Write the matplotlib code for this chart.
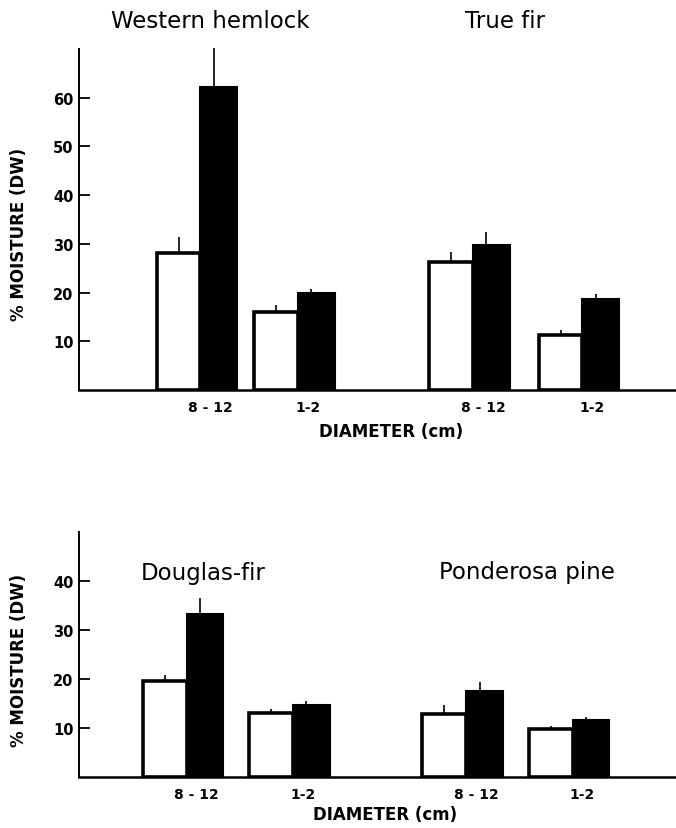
import numpy as np
import matplotlib
matplotlib.use("Agg")
import matplotlib.pyplot as plt

# ------------------------------
# DONNÉES
# ------------------------------
diam_labels = ["8 - 12", "1-2", "8 - 12", "1-2"]

# panneau du haut : Western hemlock (2 groupes) puis True fir (2 groupes)
top_open = [28.2, 16.1, 26.3, 11.4]
top_open_err = [3.2, 1.4, 2.1, 1.0]
top_solid = [62.2, 20.0, 29.8, 18.8]
top_solid_err = [8.0, 0.8, 2.6, 1.0]

# panneau du bas : Douglas-fir puis Ponderosa pine
bot_open = [19.5, 13.0, 12.9, 9.7]
bot_open_err = [1.2, 0.8, 1.7, 0.6]
bot_solid = [33.3, 14.6, 17.6, 11.6]
bot_solid_err = [3.1, 0.9, 1.7, 0.6]

top_species = ["Western hemlock", "True fir"]
bot_species = ["Douglas-fir", "Ponderosa pine"]

top_yticks = [10, 20, 30, 40, 50, 60]
bot_yticks = [10, 20, 30, 40]

# position des groupes (jonction barre blanche / barre noire)
top_pos = np.array([1.22, 2.20, 3.96, 5.06])
bot_pos = np.array([1.08, 2.15, 3.89, 4.96])
w_open = 0.44
w_solid = 0.37


def draw_panel(ax, pos, open_v, open_e, solid_v, solid_e, ymax, yticks):
    ax.bar(pos, open_v, width=-w_open, align='edge', color='white',
           edgecolor='black', linewidth=2.6, zorder=2)
    ax.bar(pos, solid_v, width=w_solid, align='edge', color='black',
           edgecolor='black', linewidth=1.5, zorder=2)
    # barres d'erreur unilatérales, sans chapeau
    ax.errorbar(pos - w_open / 2, open_v,
                yerr=[np.zeros(len(open_v)), open_e],
                fmt='none', ecolor='black', elinewidth=1.2, capsize=0,
                zorder=3, clip_on=False)
    ax.errorbar(pos + w_solid / 2 - 0.05, solid_v,
                yerr=[np.zeros(len(solid_v)), solid_e],
                fmt='none', ecolor='black', elinewidth=1.2, capsize=0,
                zorder=3, clip_on=False)

    ax.set_xlim(0, 6)
    ax.set_ylim(0, ymax)
    for s in ['top', 'right']:
        ax.spines[s].set_visible(False)
    ax.spines['left'].set_linewidth(1.4)
    ax.spines['bottom'].set_linewidth(1.8)

    ax.set_yticks(yticks)
    ax.set_yticklabels([str(t) for t in yticks], fontsize=10.5,
                       fontweight='bold')
    ax.tick_params(axis='y', direction='in', length=8, width=1.3, pad=4)

    ax.set_xticks(pos + 0.1)
    ax.set_xticklabels(diam_labels, fontsize=10, fontweight='bold')
    ax.tick_params(axis='x', length=0, pad=7)


fig = plt.figure(figsize=(6.76, 8.29), dpi=100)

ax1 = fig.add_axes([0.117, 0.528, 0.883, 0.412])
draw_panel(ax1, top_pos, top_open, top_open_err, top_solid, top_solid_err,
           70, top_yticks)
ax1.text(0.219, 1.082, top_species[0], transform=ax1.transAxes,
         ha='center', va='center', fontsize=16.5)
ax1.text(0.714, 1.082, top_species[1], transform=ax1.transAxes,
         ha='center', va='center', fontsize=16.5)

ax2 = fig.add_axes([0.117, 0.0615, 0.883, 0.296])
draw_panel(ax2, bot_pos, bot_open, bot_open_err, bot_solid, bot_solid_err,
           50, bot_yticks)
ax2.text(0.208, 0.833, bot_species[0], transform=ax2.transAxes,
         ha='center', va='center', fontsize=16.5)
ax2.text(0.750, 0.837, bot_species[1], transform=ax2.transAxes,
         ha='center', va='center', fontsize=16.5)

# étiquettes d'axes
for yc in [0.717, 0.203]:
    fig.text(0.028, yc, "% MOISTURE (DW)", rotation=90, ha='center',
             va='center', fontsize=12, fontweight='bold')
fig.text(0.579, 0.479, "DIAMETER (cm)", ha='center', va='center',
         fontsize=12, fontweight='bold')
fig.text(0.569, 0.017, "DIAMETER (cm)", ha='center', va='center',
         fontsize=12, fontweight='bold')

plt.savefig("out.png", dpi=100)
